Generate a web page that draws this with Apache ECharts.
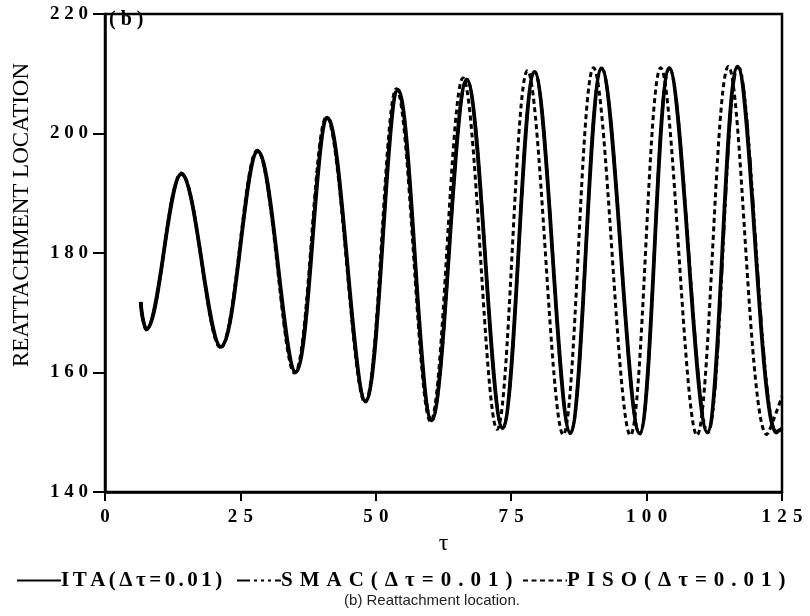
<!DOCTYPE html>
<html>
<head>
<meta charset="utf-8">
<title>Reattachment location</title>
<script src="https://cdn.jsdelivr.net/npm/echarts@6/dist/echarts.min.js"></script>
<style>
  html, body { margin: 0; padding: 0; background: #fff; }
  #chart { width: 810px; height: 616px; }
</style>
</head>
<body>
<div id="chart"></div>
<script>
// Time (tau) at the start, peaks and troughs, and the reattachment location there
const itaTau = [6.6, 6.9, 7.6, 14.1, 21.4, 28.2, 35.2, 41.1, 48.1, 54.1, 60.3, 66.8, 73.4,
  79.3, 85.9, 91.7, 98.7, 104.2, 111.2, 116.8, 123.9, 125.0];
const itaVal = [171.8, 169.4, 167.2, 193.2, 164.3, 197.0, 160.1, 202.6, 155.2, 207.3, 152.0, 209.0, 150.7,
  210.3, 149.9, 210.9, 149.8, 210.9, 150.0, 211.2, 150.0, 150.6];

const smacTau = [6.6, 6.9, 7.6, 14.1, 21.4, 28.2, 35.1, 41.0, 48.1, 54.0, 60.3, 66.8, 73.4,
  79.3, 85.9, 91.7, 98.7, 104.2, 111.3, 116.9, 124.0, 125.0];
const smacVal = [171.8, 169.4, 167.2, 193.4, 164.2, 197.1, 160.0, 202.7, 155.1, 207.4, 151.9, 209.1, 150.6,
  210.4, 149.8, 211.0, 149.7, 211.0, 149.9, 211.3, 149.9, 150.3];

const pisoTau = [6.6, 6.9, 7.6, 14.1, 21.3, 28.1, 35.0, 40.9, 48.0, 53.8, 60.1, 66.1, 72.4,
  78.0, 84.6, 90.2, 97.0, 102.6, 109.3, 115.1, 122.2, 125.0];
const pisoVal = [171.8, 169.4, 167.2, 193.3, 164.2, 197.2, 159.9, 202.8, 155.0, 207.5, 151.8, 209.3, 150.5,
  210.5, 149.6, 211.0, 149.5, 211.0, 149.5, 211.2, 149.6, 156.0];

const xTicks = [0, 25, 50, 75, 100, 125];
const yTicks = [140, 160, 180, 200, 220];

const seriesNames = ['ITA(\u0394\u03c4=0.01)', 'SMAC(\u0394\u03c4=0.01)', 'PISO(\u0394\u03c4=0.01)'];

const pairs = (xs, ys) => xs.map((x, i) => [x, ys[i]]);
// typewriter-like spacing between characters
const spaced = (s, gap) => String(s).split('').join(gap || '\u2005');

const serif = "'Liberation Serif', 'DejaVu Serif', serif";
const curveSmooth = 0.36;

// one legend block per scheme, laid out along the bottom row
function legendBlock(name, left, gap) {
  return {
    top: 565, left: left,
    itemWidth: 44, itemHeight: 14, itemGap: 0,
    itemStyle: { opacity: 0 },
    textStyle: { fontFamily: serif, fontWeight: 'bold', fontSize: 21, color: '#000', padding: [0, 0, 0, -5] },
    formatter: n => spaced(n, gap),
    data: [name]
  };
}

const chart = echarts.init(document.getElementById('chart'));
chart.setOption({
  animation: false,
  backgroundColor: '#fff',
  grid: {
    left: 105, right: 28, top: 14, bottom: 124,
    show: true, borderColor: '#000', borderWidth: 2.5
  },
  xAxis: {
    type: 'value',
    min: xTicks[0], max: xTicks[xTicks.length - 1], interval: 25,
    name: '\u03c4',
    nameLocation: 'middle',
    nameGap: 37,
    nameTextStyle: { fontFamily: serif, fontSize: 24, color: '#000' },
    axisLine: { show: true, onZero: false, lineStyle: { color: '#000', width: 2.5 } },
    axisTick: { show: true, inside: false, length: 9, lineStyle: { color: '#000', width: 2 } },
    axisLabel: {
      margin: 16, color: '#000', fontFamily: serif, fontWeight: 'bold', fontSize: 19,
      formatter: v => spaced(v, '\u2004')
    },
    splitLine: { show: false }
  },
  yAxis: {
    type: 'value',
    min: yTicks[0], max: yTicks[yTicks.length - 1], interval: 20,
    axisLine: { show: true, lineStyle: { color: '#000', width: 2.5 } },
    axisTick: { show: true, inside: false, length: 12, lineStyle: { color: '#000', width: 2 } },
    axisLabel: {
      margin: 17, color: '#000', fontFamily: serif, fontWeight: 'bold', fontSize: 19,
      formatter: v => spaced(v, '\u2005')
    },
    splitLine: { show: false }
  },
  legend: [
    legendBlock(seriesNames[0], 11, '\u2006'),
    legendBlock(seriesNames[1], 231, '\u2004'),
    legendBlock(seriesNames[2], 517, '\u2004')
  ],
  series: [
    {
      name: seriesNames[0], type: 'line', symbol: 'none', smooth: curveSmooth,
      itemStyle: { color: '#000' },
      lineStyle: { color: '#000', width: 3.8, type: 'solid' },
      data: pairs(itaTau, itaVal), z: 3
    },
    {
      name: seriesNames[1], type: 'line', symbol: 'none', smooth: curveSmooth,
      itemStyle: { color: '#000' },
      lineStyle: { color: '#000', width: 3, type: [13, 4, 3, 4, 3, 4, 3, 4] },
      data: pairs(smacTau, smacVal), z: 2
    },
    {
      name: seriesNames[2], type: 'line', symbol: 'none', smooth: curveSmooth,
      itemStyle: { color: '#000' },
      lineStyle: { color: '#000', width: 3, type: [5, 3.5] },
      data: pairs(pisoTau, pisoVal), z: 1
    }
  ],
  graphic: [
    {
      type: 'text', left: 109, top: 10,
      style: { text: '(\u2005b\u2005)', fontFamily: serif, fontWeight: 'bold', fontSize: 20, fill: '#000' }
    },
    {
      type: 'text', x: 22, y: 215, rotation: Math.PI / 2,
      style: {
        text: 'REATTACHMENT LOCATION', fontFamily: serif, fontSize: 23, fill: '#000',
        align: 'center', verticalAlign: 'middle'
      }
    },
    {
      type: 'text', x: 432, y: 601,
      style: {
        text: '(b) Reattachment location.', fontFamily: "'Liberation Sans', Arial, sans-serif",
        fontSize: 15, fill: '#222', align: 'center', verticalAlign: 'middle'
      }
    }
  ]
});
</script>
</body>
</html>
